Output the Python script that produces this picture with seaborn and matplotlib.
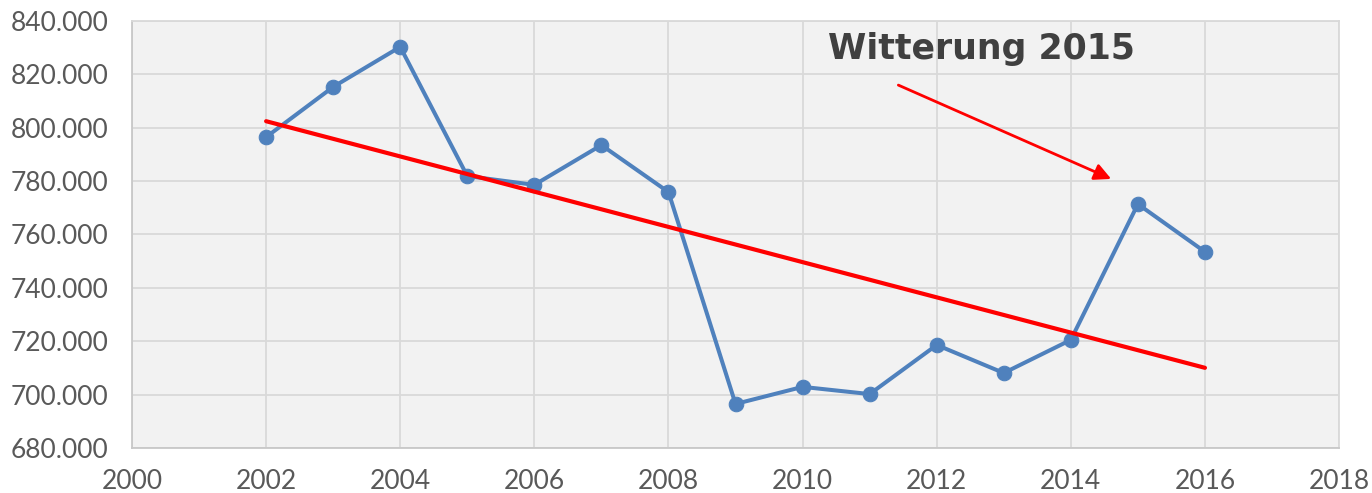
import numpy as np
import pandas as pd
import matplotlib
matplotlib.use("Agg")
import matplotlib.pyplot as plt
from matplotlib.ticker import FuncFormatter, MultipleLocator
import seaborn as sns

# Werte
years = [2002, 2003, 2004, 2005, 2006, 2007, 2008, 2009,
         2010, 2011, 2012, 2013, 2014, 2015, 2016]
values = [796500, 815300, 830300, 781900, 778600, 793500, 775900, 696500,
          702900, 700200, 718600, 708100, 720500, 771400, 753500]

df = pd.DataFrame({"Jahr": years, "Wert": values})

# lineare Trendlinie
slope, intercept = np.polyfit(df["Jahr"], df["Wert"], 1)
trend_x = np.array([years[0], years[-1]])
trend_y = slope * trend_x + intercept

sns.set_theme(style="whitegrid")
plt.rcParams["font.family"] = ["Lato", "DejaVu Sans"]

fig = plt.figure(figsize=(13.72, 4.93), dpi=100)
fig.patch.set_facecolor("white")
ax = fig.add_axes([0.0962, 0.0913, 0.8798, 0.8661])
ax.set_facecolor("#f2f2f2")

sns.lineplot(data=df, x="Jahr", y="Wert", ax=ax, color="#4f81bd",
             linewidth=2.9, marker="o", markersize=10.5,
             markeredgecolor="#4f81bd", zorder=3)
ax.plot(trend_x, trend_y, color="#ff0000", linewidth=3, zorder=4)

ax.set_xlim(2000, 2018)
ax.set_ylim(680000, 840000)
ax.xaxis.set_major_locator(MultipleLocator(2))
ax.yaxis.set_major_locator(MultipleLocator(20000))
ax.yaxis.set_major_formatter(FuncFormatter(lambda v, p: f"{int(v):,}".replace(",", ".")))

ax.grid(True, color="#d9d9d9", linewidth=1.3)
for s in ax.spines.values():
    s.set_color("#d9d9d9")
    s.set_linewidth(1.3)
ax.spines["bottom"].set_color("#c8c8c8")
ax.spines["left"].set_color("#c8c8c8")

ax.tick_params(axis="both", labelsize=19, labelcolor="#595959", length=0)
ax.tick_params(axis="x", pad=15)
ax.tick_params(axis="y", pad=17)
ax.set_xlabel("")
ax.set_ylabel("")

ax.annotate("", xy=(2014.64, 780400), xytext=(2011.39, 816400),
            arrowprops=dict(arrowstyle="-|>", color="#ff0000", lw=2,
                            mutation_scale=25), zorder=5)
ax.text(2012.66, 829500, "Witterung 2015", fontsize=25, fontweight="bold",
        color="#404040", ha="center", va="center",
        family=["DejaVu Sans"], zorder=5)

fig.savefig("out.png", dpi=100, facecolor=fig.get_facecolor())
